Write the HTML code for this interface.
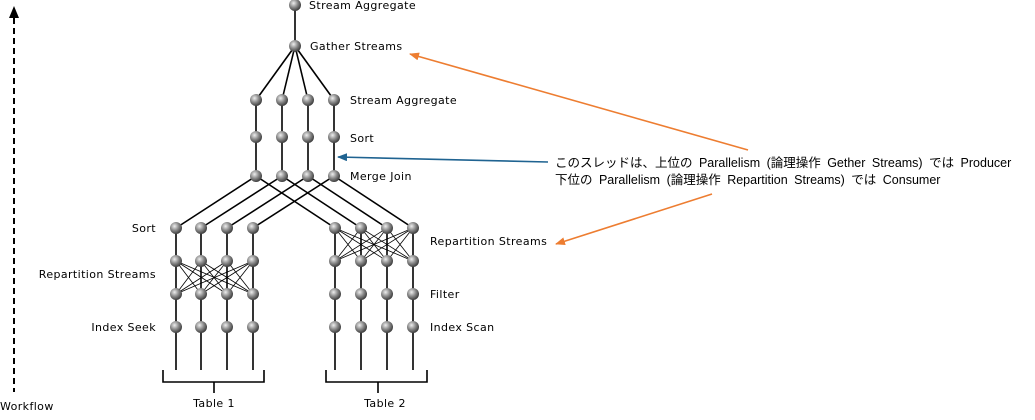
<!DOCTYPE html>
<html><head><meta charset="utf-8"><style>
html,body{margin:0;padding:0;background:#fff;width:1035px;height:420px;overflow:hidden}
svg text{font-family:"DejaVu Sans","Liberation Sans",sans-serif;font-size:11px;letter-spacing:0.4px;fill:#000}
svg text.jp{font-family:"Liberation Sans","Noto Sans CJK JP",sans-serif;font-size:12.5px;letter-spacing:0;word-spacing:3px}
</style></head><body>
<svg width="1035" height="420" xmlns="http://www.w3.org/2000/svg">
<defs>
<radialGradient id="g" cx="0.38" cy="0.35" r="0.7">
<stop offset="0" stop-color="#eeeeee"/><stop offset="0.5" stop-color="#8a8a8a"/><stop offset="1" stop-color="#333"/>
</radialGradient>
<marker id="ao" markerWidth="10" markerHeight="8" refX="9" refY="4" orient="auto" markerUnits="userSpaceOnUse"><path d="M0,0 L10,4 L0,8 Z" fill="#ed7d31"/></marker>
<marker id="ab" markerWidth="10" markerHeight="8" refX="9" refY="4" orient="auto" markerUnits="userSpaceOnUse"><path d="M0,0 L10,4 L0,8 Z" fill="#1f6391"/></marker>
</defs>
<g stroke="#000" stroke-width="1.6" fill="none">
<line x1="14" y1="18" x2="14" y2="392" stroke-dasharray="6,4" stroke-width="2"/>
<line x1="295" y1="5" x2="295" y2="46"/>
<line x1="295" y1="46" x2="256" y2="100"/><line x1="295" y1="46" x2="282" y2="100"/>
<line x1="295" y1="46" x2="308" y2="100"/><line x1="295" y1="46" x2="334" y2="100"/>
<line x1="256" y1="100" x2="256" y2="176"/><line x1="282" y1="100" x2="282" y2="176"/>
<line x1="308" y1="100" x2="308" y2="176"/><line x1="334" y1="100" x2="334" y2="176"/>
<line x1="256" y1="176" x2="176" y2="228"/><line x1="282" y1="176" x2="201" y2="228"/>
<line x1="308" y1="176" x2="227" y2="228"/><line x1="334" y1="176" x2="253" y2="228"/>
<line x1="256" y1="176" x2="335" y2="228"/><line x1="282" y1="176" x2="361" y2="228"/>
<line x1="308" y1="176" x2="387" y2="228"/><line x1="334" y1="176" x2="413" y2="228"/>
<line x1="176" y1="228" x2="176" y2="370"/><line x1="201" y1="228" x2="201" y2="370"/>
<line x1="227" y1="228" x2="227" y2="370"/><line x1="253" y1="228" x2="253" y2="370"/>
<line x1="335" y1="228" x2="335" y2="370"/><line x1="361" y1="228" x2="361" y2="370"/>
<line x1="387" y1="228" x2="387" y2="370"/><line x1="413" y1="228" x2="413" y2="370"/>
<path d="M163,370 V382 H264 V370 M214,382 V393"/>
<path d="M326,370 V382 H427 V370 M378,382 V393"/>
</g>
<g stroke="#000" stroke-width="0.8">
<line x1="176" y1="261" x2="201" y2="294"/><line x1="176" y1="261" x2="227" y2="294"/><line x1="176" y1="261" x2="253" y2="294"/>
<line x1="201" y1="261" x2="176" y2="294"/><line x1="201" y1="261" x2="227" y2="294"/><line x1="201" y1="261" x2="253" y2="294"/>
<line x1="227" y1="261" x2="176" y2="294"/><line x1="227" y1="261" x2="201" y2="294"/><line x1="227" y1="261" x2="253" y2="294"/>
<line x1="253" y1="261" x2="176" y2="294"/><line x1="253" y1="261" x2="201" y2="294"/><line x1="253" y1="261" x2="227" y2="294"/>
<line x1="335" y1="228" x2="361" y2="261"/><line x1="335" y1="228" x2="387" y2="261"/><line x1="335" y1="228" x2="413" y2="261"/>
<line x1="361" y1="228" x2="335" y2="261"/><line x1="361" y1="228" x2="387" y2="261"/><line x1="361" y1="228" x2="413" y2="261"/>
<line x1="387" y1="228" x2="335" y2="261"/><line x1="387" y1="228" x2="361" y2="261"/><line x1="387" y1="228" x2="413" y2="261"/>
<line x1="413" y1="228" x2="335" y2="261"/><line x1="413" y1="228" x2="361" y2="261"/><line x1="413" y1="228" x2="387" y2="261"/>
</g>
<path d="M14,6 L9,18 L19,18 Z" fill="#000"/>
<g fill="url(#g)">
<circle cx="295" cy="5" r="6"/><circle cx="295" cy="46" r="6"/>
<circle cx="256" cy="100" r="6"/><circle cx="282" cy="100" r="6"/><circle cx="308" cy="100" r="6"/><circle cx="334" cy="100" r="6"/>
<circle cx="256" cy="137" r="6"/><circle cx="282" cy="137" r="6"/><circle cx="308" cy="137" r="6"/><circle cx="334" cy="137" r="6"/>
<circle cx="256" cy="176" r="6"/><circle cx="282" cy="176" r="6"/><circle cx="308" cy="176" r="6"/><circle cx="334" cy="176" r="6"/>
<circle cx="176" cy="228" r="6"/><circle cx="201" cy="228" r="6"/><circle cx="227" cy="228" r="6"/><circle cx="253" cy="228" r="6"/>
<circle cx="176" cy="261" r="6"/><circle cx="201" cy="261" r="6"/><circle cx="227" cy="261" r="6"/><circle cx="253" cy="261" r="6"/>
<circle cx="176" cy="294" r="6"/><circle cx="201" cy="294" r="6"/><circle cx="227" cy="294" r="6"/><circle cx="253" cy="294" r="6"/>
<circle cx="176" cy="327" r="6"/><circle cx="201" cy="327" r="6"/><circle cx="227" cy="327" r="6"/><circle cx="253" cy="327" r="6"/>
<circle cx="335" cy="228" r="6"/><circle cx="361" cy="228" r="6"/><circle cx="387" cy="228" r="6"/><circle cx="413" cy="228" r="6"/>
<circle cx="335" cy="261" r="6"/><circle cx="361" cy="261" r="6"/><circle cx="387" cy="261" r="6"/><circle cx="413" cy="261" r="6"/>
<circle cx="335" cy="294" r="6"/><circle cx="361" cy="294" r="6"/><circle cx="387" cy="294" r="6"/><circle cx="413" cy="294" r="6"/>
<circle cx="335" cy="327" r="6"/><circle cx="361" cy="327" r="6"/><circle cx="387" cy="327" r="6"/><circle cx="413" cy="327" r="6"/>
</g>
<line x1="748" y1="150" x2="410" y2="54" stroke="#ed7d31" stroke-width="1.6" marker-end="url(#ao)"/>
<line x1="548" y1="162" x2="338" y2="157" stroke="#1f6391" stroke-width="1.6" marker-end="url(#ab)"/>
<line x1="712" y1="194" x2="556" y2="244" stroke="#ed7d31" stroke-width="1.6" marker-end="url(#ao)"/>
<text x="309" y="9">Stream Aggregate</text>
<text x="310" y="50">Gather Streams</text>
<text x="350" y="104">Stream Aggregate</text>
<text x="350" y="142">Sort</text>
<text x="350" y="180">Merge Join</text>
<text x="156" y="232" text-anchor="end">Sort</text>
<text x="156" y="278" text-anchor="end">Repartition Streams</text>
<text x="156" y="331" text-anchor="end">Index Seek</text>
<text x="430" y="245">Repartition Streams</text>
<text x="430" y="298">Filter</text>
<text x="430" y="331">Index Scan</text>
<text x="214" y="407" text-anchor="middle">Table 1</text>
<text x="385" y="407" text-anchor="middle">Table 2</text>
<text x="0" y="410">Workflow</text>
<text class="jp" x="555" y="167">このスレッドは、上位の Parallelism (論理操作 Gether Streams) では Producer</text>
<text class="jp" x="555" y="184">下位の Parallelism (論理操作 Repartition Streams) では Consumer</text>
</svg>
</body></html>
